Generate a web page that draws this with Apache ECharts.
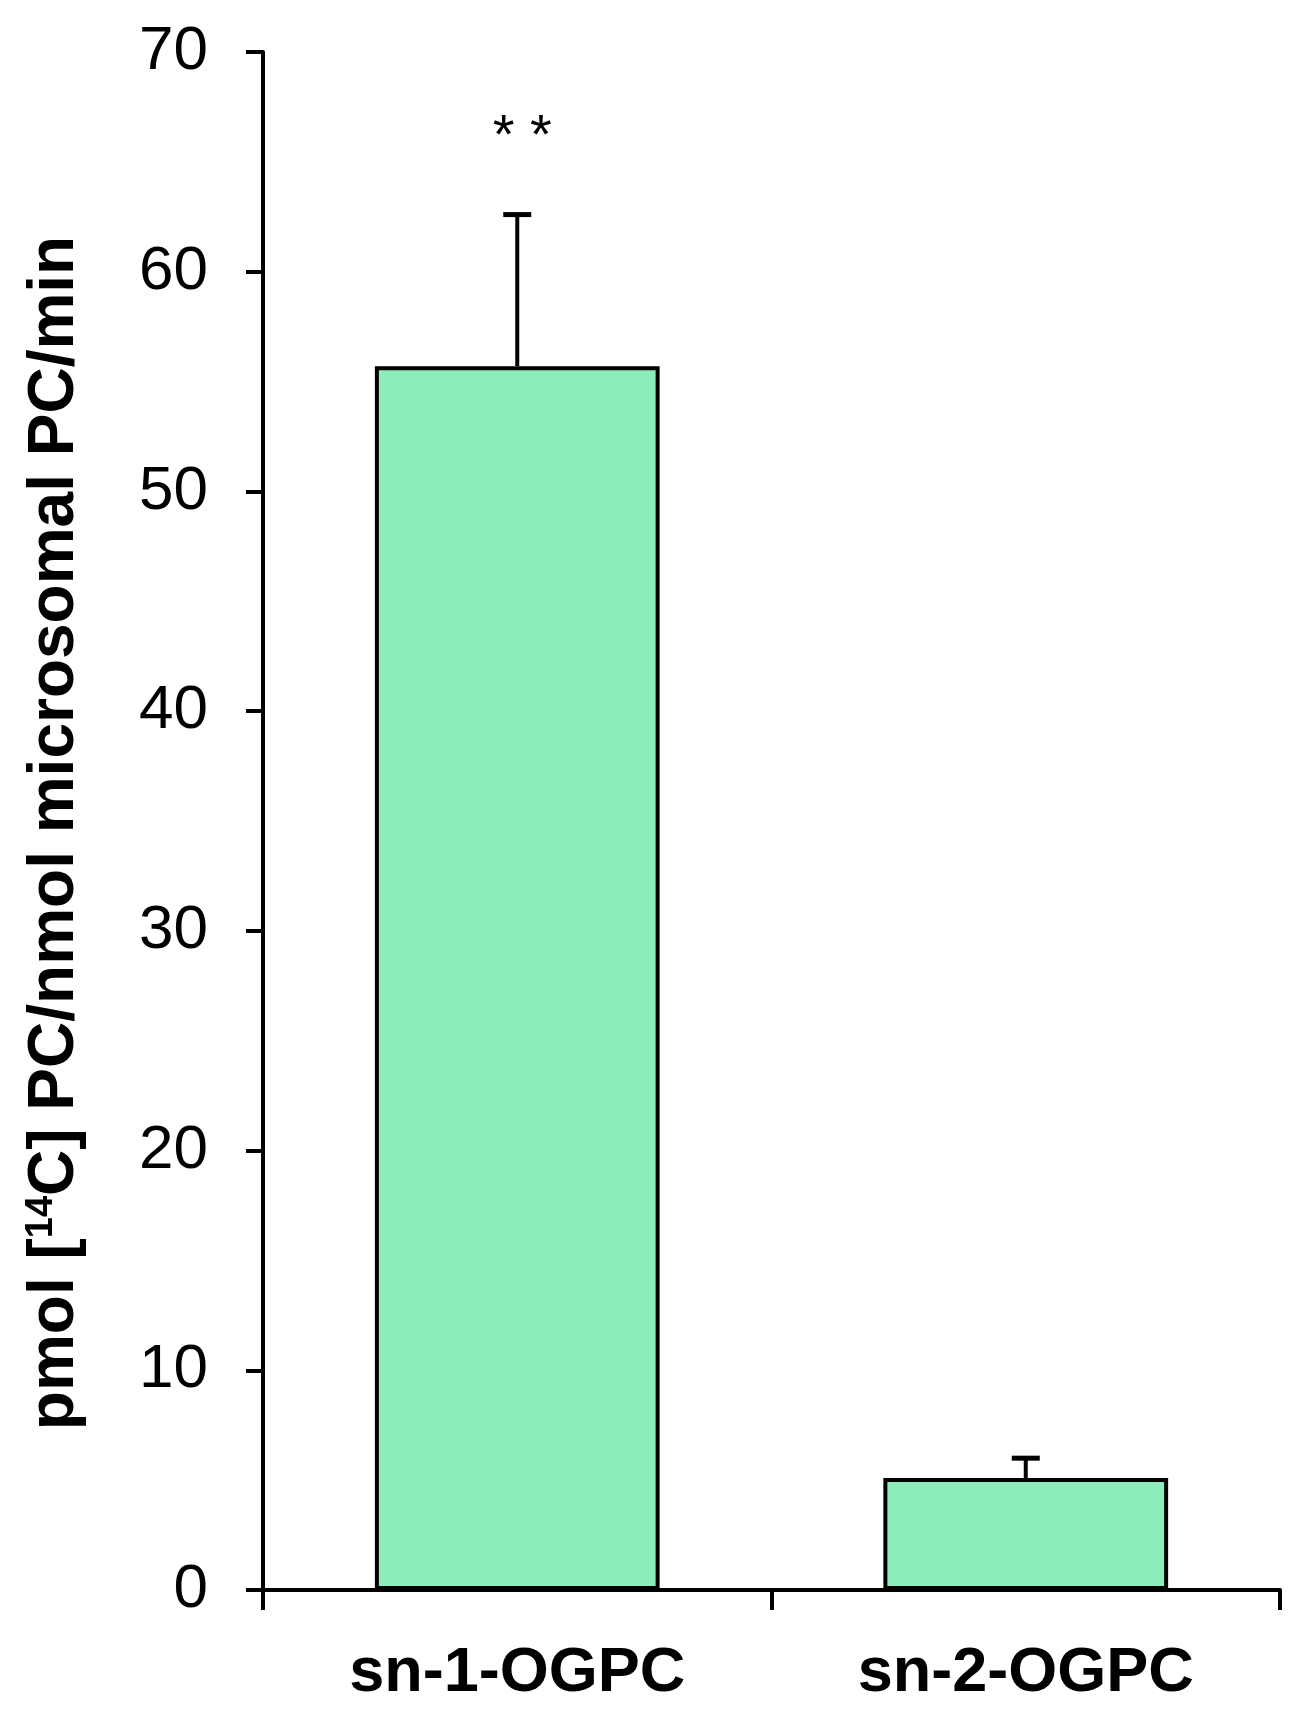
<!DOCTYPE html>
<html>
<head>
<meta charset="utf-8">
<script src="https://cdn.jsdelivr.net/npm/echarts@6/dist/echarts.min.js"></script>
<style>
html,body{margin:0;padding:0;background:#fff;}
#chart{width:1313px;height:1728px;}
</style>
</head>
<body>
<div id="chart"></div>
<script>
const categories = ['sn-1-OGPC', 'sn-2-OGPC'];
const values = [55.7, 5.1];
const errors = [6.9, 0.9];
const significance = ['* *', ''];
const yTicks = [0, 10, 20, 30, 40, 50, 60, 70];

const chart = echarts.init(document.getElementById('chart'), null, {renderer: 'canvas'});

const errData = categories.map((c, i) => [i, values[i], errors[i]]);

const option = {
  animation: false,
  backgroundColor: '#fff',
  grid: {left: 263, right: 33, top: 52, bottom: 138, containLabel: false},
  xAxis: {
    type: 'category',
    data: categories,
    axisLine: {lineStyle: {color: '#000', width: 4}},
    axisTick: {show: true, length: 20, lineStyle: {color: '#000', width: 4}, alignWithLabel: false},
    axisLabel: {color: '#000', fontFamily: 'Liberation Sans, Arial', fontWeight: 'bold', fontSize: 63, margin: 52}
  },
  yAxis: {
    type: 'value',
    min: yTicks[0],
    max: yTicks[yTicks.length - 1],
    interval: 10,
    name: 'pmol [{sup|14}C] PC/nmol microsomal PC/min',
    nameLocation: 'middle',
    nameGap: 176,
    nameRotate: 90,
    nameTextStyle: {
      color: '#000', fontFamily: 'Liberation Sans, Arial', fontWeight: 'bold', fontSize: 64,
      padding: [0, 24, 0, 0],
      rich: {sup: {fontSize: 38, fontWeight: 'bold', fontFamily: 'Liberation Sans, Arial', verticalAlign: 'top', padding: [0, 0, 24, 0], color: '#000'}}
    },
    axisLine: {show: true, lineStyle: {color: '#000', width: 4}},
    axisTick: {show: true, length: 17, lineStyle: {color: '#000', width: 4}},
    splitLine: {show: false},
    axisLabel: {color: '#000', fontFamily: 'Liberation Sans, Arial', fontSize: 62, margin: 55}
  },
  series: [
    {
      type: 'bar',
      data: values,
      barWidth: '56%',
      itemStyle: {color: '#8DEDBA', borderColor: '#000', borderWidth: 4}
    },
    {
      type: 'custom',
      data: errData,
      z: 5,
      renderItem: function (params, api) {
        const i = api.value(0);
        const v = api.value(1);
        const e = api.value(2);
        const sig = significance[i];
        const base = api.coord([i, v]);
        const top = api.coord([i, v + e]);
        const capHalf = 14;
        const children = [
          {type: 'line', shape: {x1: base[0], y1: base[1], x2: top[0], y2: top[1]}, style: {stroke: '#000', lineWidth: 4}},
          {type: 'line', shape: {x1: top[0] - capHalf, y1: top[1], x2: top[0] + capHalf, y2: top[1]}, style: {stroke: '#000', lineWidth: 5}}
        ];
        if (sig) {
          children.push({type: 'text', style: {text: sig, x: top[0] + 5, y: top[1] - 77, align: 'center', verticalAlign: 'middle', fontSize: 56, fontFamily: 'Liberation Sans, Arial', fill: '#000'}});
        }
        return {type: 'group', children: children};
      }
    }
  ]
};
chart.setOption(option);
</script>
</body>
</html>
